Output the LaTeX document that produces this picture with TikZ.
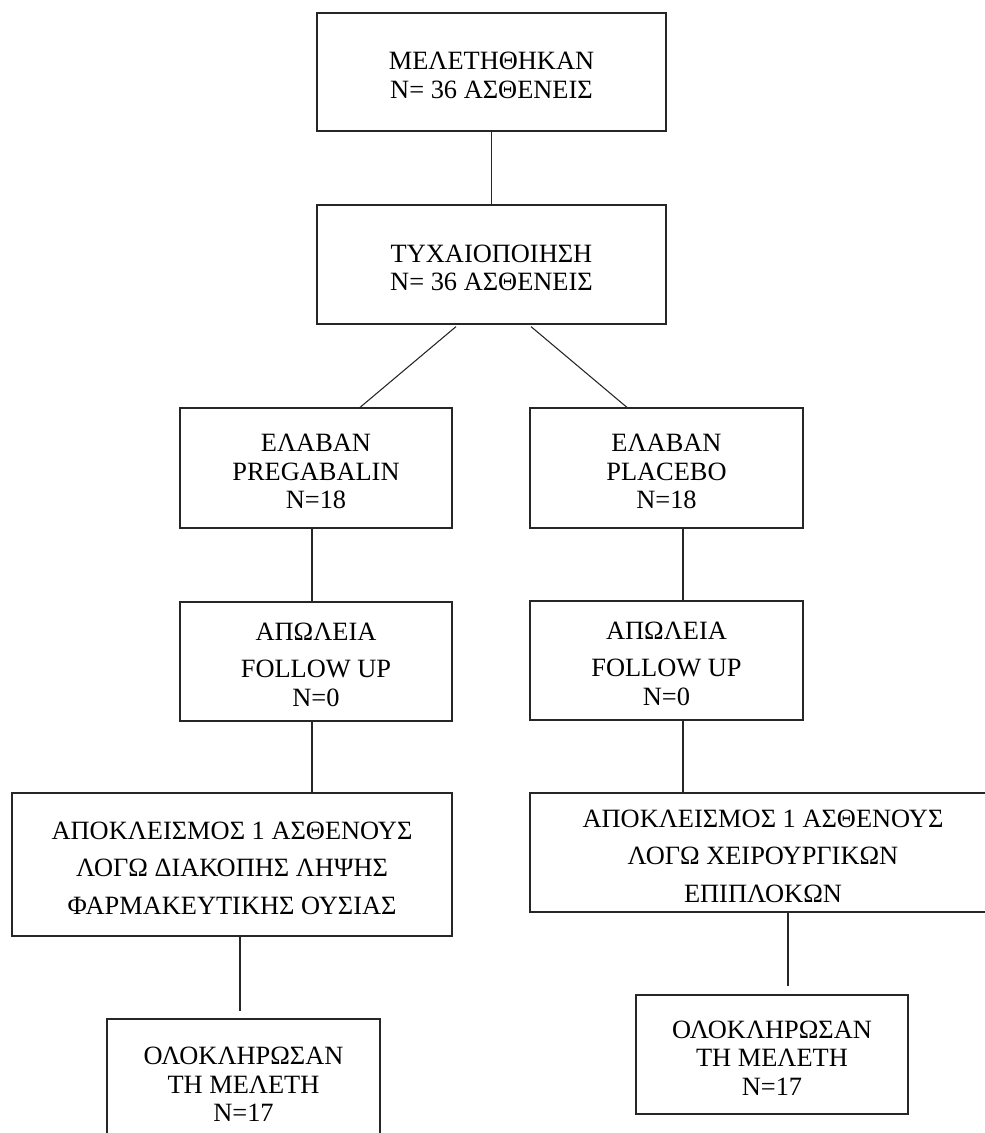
\documentclass[tikz,border=0pt]{standalone}
\usepackage{fontspec}
\setmainfont{Liberation Serif}
\usetikzlibrary{calc}
\newcommand\topfix{\rule{0pt}{18.5pt}}
\begin{document}
\begin{tikzpicture}[x=0.75pt,y=-0.75pt,
  box/.style={draw=black!85, line width=0.9pt, align=center, inner sep=0pt,
    font=\fontsize{19.8}{21.4}\selectfont},
  conn/.style={draw=black!85, line width=0.8pt}]
\clip (0,0) rectangle (985,1133);
\fill[white] (0,0) rectangle (985,1133);

\node[box, minimum width=261.75pt, minimum height=88.5pt] (b1) at (491.5,72)
  {\topfix ΜΕΛΕΤΗΘΗΚΑΝ\\N= 36 ΑΣΘΕΝΕΙΣ};
\node[box, minimum width=261.75pt, minimum height=89.25pt] (b2) at (491.5,264.5)
  {\topfix ΤΥΧΑΙΟΠΟΙΗΣΗ\\N= 36 ΑΣΘΕΝΕΙΣ};
\node[box, minimum width=204pt, minimum height=90pt] (b3) at (316,468)
  {\topfix ΕΛΑΒΑΝ\\PREGABALIN\\N=18};
\node[box, minimum width=204.75pt, minimum height=90pt] (b4) at (666.5,468)
  {\topfix ΕΛΑΒΑΝ\\PLACEBO\\N=18};
\node[box, minimum width=204pt, minimum height=89.25pt] (b5) at (316,661.5)
  {\topfix ΑΠΩΛΕΙΑ\\[6.4pt]FOLLOW UP\\N=0};
\node[box, minimum width=204.75pt, minimum height=89.25pt] (b6) at (666.5,660.5)
  {\topfix ΑΠΩΛΕΙΑ\\[6.4pt]FOLLOW UP\\N=0};
\node[box, minimum width=330pt, minimum height=107.25pt] (b7) at (232,864.5)
  {\topfix ΑΠΟΚΛΕΙΣΜΟΣ 1 ΑΣΘΕΝΟΥΣ\\[6.75pt]ΛΟΓΩ ΔΙΑΚΟΠΗΣ ΛΗΨΗΣ\\[6.75pt]ΦΑΡΜΑΚΕΥΤΙΚΗΣ ΟΥΣΙΑΣ};
\node[box, minimum width=349.5pt, minimum height=89.25pt] (b8) at (763,852.5)
  {\topfix ΑΠΟΚΛΕΙΣΜΟΣ 1 ΑΣΘΕΝΟΥΣ\\[6.75pt]ΛΟΓΩ ΧΕΙΡΟΥΡΓΙΚΩΝ\\[6.75pt]ΕΠΙΠΛΟΚΩΝ};
\node[box, minimum width=204.75pt, minimum height=93pt] (b9) at (243.5,1081)
  {\topfix ΟΛΟΚΛΗΡΩΣΑΝ\\ΤΗ ΜΕΛΕΤΗ\\N=17};
\node[box, minimum width=204pt, minimum height=89.25pt] (b10) at (772,1054.5)
  {\topfix ΟΛΟΚΛΗΡΩΣΑΝ\\ΤΗ ΜΕΛΕΤΗ\\N=17};

\coordinate (s23a) at ($(b2.south)+(-35.5,2)$);
\coordinate (s23b) at ($(b3.north)+(44,0)$);
\coordinate (s24a) at ($(b2.south)+(39.5,2)$);
\coordinate (s24b) at ($(b4.north)+(-39.5,0)$);
\coordinate (s35) at ($(b3.south)+(-4,0)$);
\coordinate (s46) at ($(b4.south)+(16.5,0)$);
\coordinate (s57) at ($(b5.south)+(-4,0)$);
\coordinate (s68) at ($(b6.south)+(16.5,0)$);
\coordinate (e9) at ($(b9.north)+(-3.5,-7)$);
\coordinate (e10) at ($(b10.north)+(16,-8)$);

\draw[conn] (b1.south) -- (b2.north);
\draw[conn] (s23a) -- (s23b);
\draw[conn] (s24a) -- (s24b);
\draw[conn] (s35) -- (s35 |- b5.north);
\draw[conn] (s46) -- (s46 |- b6.north);
\draw[conn] (s57) -- (s57 |- b7.north);
\draw[conn] (s68) -- (s68 |- b8.north);
\draw[conn] (b7.south -| e9) -- (e9);
\draw[conn] (b8.south -| e10) -- (e10);
\end{tikzpicture}
\end{document}
